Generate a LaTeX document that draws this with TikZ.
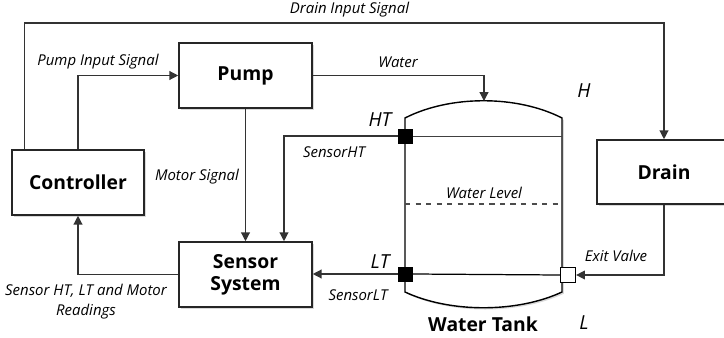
\documentclass[tikz,border=0pt]{standalone}
\usepackage{fontspec}
\setmainfont{Open Sans}
\usetikzlibrary{arrows.meta,shadows}
\begin{document}
\begin{tikzpicture}[x=0.02cm,y=-0.02cm]
		\tikzstyle{every node}=[font=\fontsize{8.5pt}{10pt}\selectfont\itshape]
		\tikzstyle{block}=[draw=black!85, line width=0.9pt, fill=white, minimum height=1.3cm, align=center, font=\fontsize{11pt}{12.5pt}\selectfont\bfseries, drop shadow={shadow xshift=1pt, shadow yshift=-1pt, opacity=0.3}]
		\tikzstyle{sig}=[line width=0.7pt, draw=black!80, -{Triangle[length=5pt,width=5pt]}]
		\tikzstyle{sensorsq}=[draw=black, fill=black, minimum size=0.28cm, inner sep=0pt]
		\tikzstyle{valvesq}=[draw=black, fill=white, line width=0.7pt, minimum size=0.3cm, inner sep=0pt]
		\tikzstyle{biglbl}=[font=\fontsize{11pt}{12pt}\selectfont\itshape]
		
		\useasboundingbox (0,0) rectangle (724,338);
		
		\node[block, minimum width=2.66cm] (pump) at (245.5,75.5) {Pump};
		\node[block, minimum width=2.64cm] (controller) at (78,182.5) {Controller};
		\node[block, minimum width=2.66cm] (sensor) at (245.5,274.5) {Sensor\\System};
		\node[block, minimum width=2.68cm, minimum height=1.28cm] (drain) at (664,172) {Drain};
		
		% water tank
		\draw[line width=0.8pt, fill=white, drop shadow={shadow xshift=1pt, shadow yshift=-1pt, opacity=0.3}]
		(405,118) -- (405,292) .. controls (450,313) and (517,313) .. (562,292) -- (562,118) .. controls (517,95) and (450,95) .. cycle;
		\coordinate (tanktop) at (484,101);
		\draw[line width=0.5pt, black!75] (405,136) -- (562,136);
		\draw[line width=0.6pt, black!70, dashed] (405,204) -- (562,204);
		\node[sensorsq] (ht) at (405,136) {};
		\node[sensorsq] (lt) at (405,274) {};
		\node[valvesq] (valve) at (568,275) {};
		\draw[line width=0.7pt] (lt.east) -- (valve.west);
		
		\coordinate (dtop) at (664,23);
		
		\draw[sig] ([xshift=0.26cm]controller.north west) |- (dtop) -- (drain.north);
		\draw[sig] (controller.north) |- (pump.west);
		\draw[sig] (pump.east) -| (tanktop);
		\draw[sig] (pump.south) -- (sensor.north);
		\draw[sig] (ht.west) -| ([xshift=0.77cm]sensor.north);
		\draw[sig] (lt.west) -- (sensor.east |- lt.west);
		\draw[sig] (sensor.west) -| (controller.south);
		\draw[sig] (drain.south) |- (valve.east);
		
		\node (drainlbl) at (349.5,10) {Drain Input Signal};
		\node (pumplbl) at (98,62) {Pump Input Signal};
		\node (waterlbl) at (398,62) {Water};
		\node (motorlbl) at (197,177) {Motor Signal};
		\node (htlbl) at (334,152) {SensorHT};
		\node (ltlbl) at (358,295) {SensorLT};
		\node (levellbl) at (484,193) {Water Level};
		\node (exitlbl) at (616,256) {Exit Valve};
		\node[align=center, font=\fontsize{8.5pt}{11.3pt}\selectfont\itshape] (readlbl) at (86,302) {Sensor HT, LT and Motor\\Readings};
		\node[biglbl] (htmark) at (380,120) {HT};
		\node[biglbl] (ltmark) at (380,262) {LT};
		\node[biglbl] (hmark) at (584,91) {H};
		\node[biglbl] (lmark) at (584,323) {L};
		\node[font=\fontsize{11pt}{12pt}\selectfont\bfseries] (tanklbl) at (483,324) {Water Tank};
		
	\end{tikzpicture}
\end{document}
